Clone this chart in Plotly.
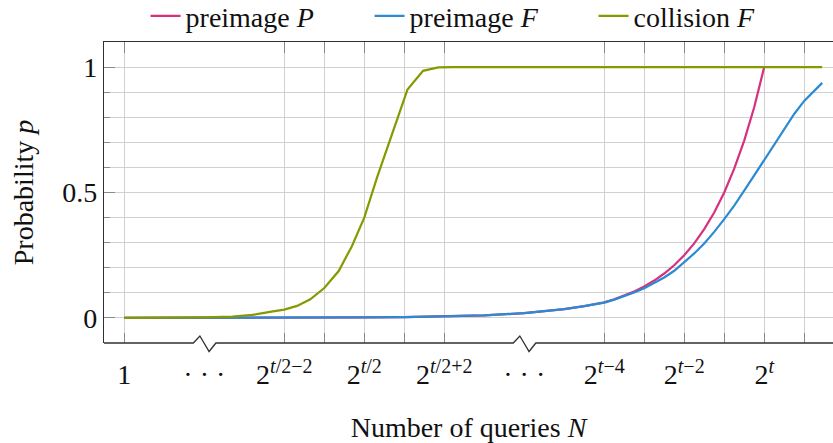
import plotly.graph_objects as go

# ---- data (x in axis units: 0 = "1", 4 = 2^(t/2-2), 6 = 2^(t/2), 8 = 2^(t/2+2), 12 = 2^(t-4), 14 = 2^(t-2), 16 = 2^t)
coll_x = [0, 1, 2, 2.7, 3.2, 3.64, 4.0, 4.32, 4.65, 5.0, 5.36, 5.69, 6.0, 6.32, 6.64, 7.08, 7.47, 7.85, 8.2, 10, 12, 14, 16, 17.45]
coll_y = [0, 0.0005, 0.002, 0.005, 0.012, 0.024, 0.033, 0.048, 0.074, 0.119, 0.187, 0.286, 0.40, 0.56, 0.71, 0.91, 0.985, 0.999, 1.0, 1.0, 1.0, 1.0, 1.0, 1.0]

preP_x = [0, 2, 4, 5, 6, 7, 8, 9, 10, 10.5, 11, 11.5, 12, 12.25, 12.5, 12.75, 13, 13.25, 13.5, 13.75,
          14, 14.25, 14.5, 14.75, 15, 15.25, 15.5, 15.75, 16]
preP_y = [0, 0, 0.0005, 0.001, 0.002, 0.003, 0.006, 0.010, 0.019, 0.026, 0.035, 0.047, 0.062, 0.074, 0.088, 0.105, 0.125, 0.149, 0.177, 0.21,
          0.25, 0.297, 0.354, 0.42, 0.5, 0.595, 0.707, 0.84, 1.0]

preF_x = [0, 2, 4, 5, 6, 7, 8, 9, 10, 10.5, 11, 11.5, 12, 12.25, 12.5, 12.75, 13, 13.25, 13.5, 13.75,
          14, 14.25, 14.5, 14.75, 15, 15.25, 15.5, 15.75, 16, 16.25, 16.5, 16.75, 17, 17.25, 17.45]
preF_y = [0, 0, 0.0005, 0.001, 0.002, 0.003, 0.006, 0.010, 0.019, 0.026, 0.035, 0.047, 0.061, 0.073, 0.086, 0.101, 0.118, 0.138, 0.161, 0.188,
          0.221, 0.257, 0.297, 0.343, 0.394, 0.448, 0.507, 0.568, 0.632, 0.695, 0.753, 0.813, 0.865, 0.905, 0.937]

label_pos = [0, 2, 4, 6, 8, 10, 12, 14, 16]
label_base = ["1", "· · ·", "2", "2", "2", "· · ·", "2", "2", "2"]
label_exp = ["", "", "<i>t</i>/2−2", "<i>t</i>/2", "<i>t</i>/2+2", "", "<i>t</i>−4", "<i>t</i>−2", "<i>t</i>"]
grid_pos = [0, 4, 5, 6, 7, 8, 12, 13, 14, 15, 16, 17]
break_pos = [2, 10]

FONT = "Liberation Serif"
PINK = "#d6307f"
BLUE = "#2c8ad3"
OLIVE = "#869a00"
GRID = "#d0d0d0"
TICK = "#8a8a8a"
AXIS = "#303030"
XR = [-0.508, 17.72]

# superscript via a raised, smaller span (no zero-width helper glyphs)
label_txt = [b + (f"<span style='font-size:20px;baseline-shift:11px'>{e}</span>" if e else "")
             for b, e in zip(label_base, label_exp)]

fig = go.Figure()
fig.add_trace(go.Scatter(x=preP_x, y=preP_y, mode="lines", name="preimage <i>P</i>",
                         line=dict(color=PINK, width=2.2)))
fig.add_trace(go.Scatter(x=preF_x, y=preF_y, mode="lines", name="preimage <i>F</i>",
                         line=dict(color=BLUE, width=2.2)))
fig.add_trace(go.Scatter(x=coll_x, y=coll_y, mode="lines", name="collision <i>F</i>",
                         line=dict(color=OLIVE, width=2.2)))

# bottom axis line with zigzag break marks
def zig(c):
    return f" L {c-0.275:.3f},0 L {c-0.11:.3f},7 L {c+0.12:.3f},-8.5 L {c+0.29:.3f},0"

path = f"M {XR[0]},0" + "".join(zig(c) for c in break_pos) + f" L {XR[1]},0"
fig.add_shape(type="path", path=path, xref="x", yref="paper", ysizemode="pixel", yanchor=0,
              line=dict(color=AXIS, width=1.3), layer="above")

fig.update_layout(
    width=833, height=443,
    margin=dict(l=104, r=0, t=42, b=100, autoexpand=False),
    paper_bgcolor="white", plot_bgcolor="white",
    font=dict(family=FONT, size=28, color="#111111"),
    showlegend=True,
    legend=dict(orientation="h", x=0.057, xanchor="left", xref="paper",
                y=1.169, yanchor="top", yref="paper",
                font=dict(family=FONT, size=28), bgcolor="rgba(0,0,0,0)",
                entrywidth=179, tracegroupgap=0),
    xaxis=dict(range=XR, tickmode="array", tickvals=label_pos, ticktext=label_txt,
               ticks="outside", ticklen=6, tickcolor="rgba(0,0,0,0)",
               showgrid=False, zeroline=False, showline=False, automargin=False,
               minor=dict(tickmode="array", tickvals=grid_pos, ticks="inside", ticklen=10,
                          tickcolor=TICK, tickwidth=1, showgrid=False),
               title=dict(text="Number of queries <i>N</i>", standoff=28,
                          font=dict(family=FONT, size=28))),
    xaxis2=dict(range=XR, overlaying="x", side="top", anchor="y", tickmode="array", tickvals=grid_pos,
                showticklabels=False, ticks="inside", ticklen=11, tickcolor=TICK, tickwidth=1,
                showgrid=True, gridcolor=GRID, gridwidth=1.3, zeroline=False, automargin=False,
                showline=True, linecolor=AXIS, linewidth=1.3),
    yaxis=dict(range=[-0.1, 1.1], tickmode="array", tickvals=[0, 0.5, 1], ticktext=["0", "0.5", "1"],
               ticks="inside", ticklen=11, tickcolor=TICK, tickwidth=1, automargin=False,
               showgrid=True, gridcolor=GRID, gridwidth=1.3, zeroline=False,
               showline=True, linecolor=AXIS, linewidth=1.3,
               minor=dict(dtick=0.1, tick0=0, ticks="inside", ticklen=6, tickcolor=TICK,
                          showgrid=True, gridcolor=GRID, gridwidth=1.3),
               title=dict(text="Probability <i>p</i>", standoff=20,
                          font=dict(family=FONT, size=28))),
)

# invisible trace to activate overlay axis
fig.add_trace(go.Scatter(x=[XR[0]], y=[0], xaxis="x2", mode="markers", marker=dict(opacity=0),
                         showlegend=False, hoverinfo="skip"))

fig.write_html("out.html", config={"displayModeBar": False},
               post_script="document.body.style.margin='0';document.body.style.padding='0';")
